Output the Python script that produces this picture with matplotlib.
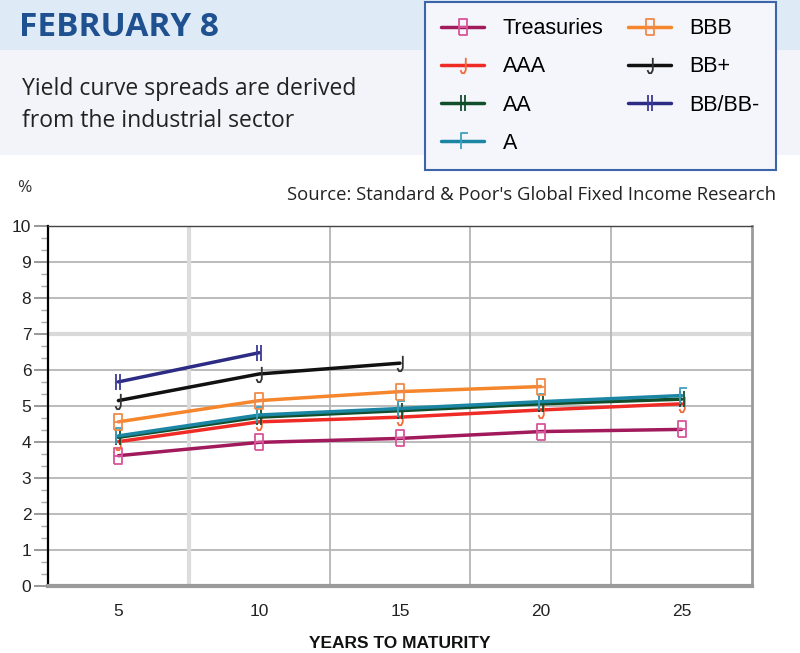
import matplotlib
matplotlib.use('Agg')
import matplotlib.pyplot as plt
from matplotlib.path import Path
from matplotlib.patches import Rectangle
from matplotlib.ticker import MultipleLocator, FixedLocator

# data
maturities = [5, 10, 15, 20, 25]
series_names = ['Treasuries', 'AAA', 'AA', 'A', 'BBB', 'BB+', 'BB/BB-']
treasuries = [3.62, 3.99, 4.10, 4.29, 4.35]
aaa = [4.01, 4.56, 4.69, 4.89, 5.06]
aa = [4.13, 4.69, 4.87, 5.06, 5.19]
a = [4.17, 4.75, 4.93, 5.12, 5.29]
bbb = [4.56, 5.15, 5.40, 5.54]
bb_plus = [5.15, 5.89, 6.19]
bb_minus = [5.67, 6.48]
series_values = [treasuries, aaa, aa, a, bbb, bb_plus, bb_minus]

M, L = Path.MOVETO, Path.LINETO
box_mark = Path([(-0.5, -1), (-0.5, 1), (0.5, 1), (0.5, -1), (-0.5, -1), (-0.5, 0), (0.5, 0)],
                [M, L, L, L, L, M, L])
hook_mark = Path([(0.3, 1), (0.3, -0.6), (0.1, -1), (-0.2, -1), (-0.4, -0.6)],
                 [M, L, L, L, L])
bars_mark = Path([(-0.3, -1), (-0.3, 1), (0.3, -1), (0.3, 1)], [M, L, M, L])
f_mark = Path([(-0.2, -1), (-0.2, 1), (0.6, 1)], [M, L, L])

line_colors = ['#a11a5c', '#ee2b24', '#114f2c', '#1b86a4', '#f5862c', '#111111', '#2d2c84']
mark_colors = ['#d8559a', '#f26a3a', '#114f2c', '#3fa0bd', '#f08a4a', '#333333', '#3a3a96']
markers = [box_mark, hook_mark, bars_mark, f_mark, box_mark, hook_mark, bars_mark]

fig = plt.figure(figsize=(8, 6.53), dpi=100)

# header bands
fig.patches.append(Rectangle((0, 1 - 50 / 653), 1, 50 / 653, transform=fig.transFigure,
                             facecolor='#deebf7', edgecolor='none', zorder=0))
fig.patches.append(Rectangle((0, 1 - 155 / 653), 1, 105 / 653, transform=fig.transFigure,
                             facecolor='#f3f4f9', edgecolor='none', zorder=0))
fig.text(19 / 800, 1 - 28 / 653, 'FEBRUARY 8', fontsize=24, fontweight='bold',
         family='Open Sans', color='#1f5190', va='center', ha='left')
fig.text(22 / 800, 1 - 105 / 653, 'Yield curve spreads are derived\nfrom the industrial sector',
         fontsize=16.5, family='Open Sans', color='#222222', va='center', ha='left',
         linespacing=1.4)

ax = fig.add_axes([48 / 800, 67 / 653, 704 / 800, 360 / 653])

lines = []
for name, vals, lc, mc, mk in zip(series_names, series_values, line_colors, mark_colors, markers):
    ln, = ax.plot(maturities[:len(vals)], vals, color=lc, lw=2.5, marker=mk, markersize=11,
                  markerfacecolor='none', markeredgecolor=mc, markeredgewidth=1.3,
                  label=name, zorder=3, solid_capstyle='round')
    lines.append(ln)

ax.set_xlim(2.5, 27.5)
ax.set_ylim(0, 10)
ax.xaxis.set_major_locator(FixedLocator(maturities))
ax.yaxis.set_major_locator(MultipleLocator(1))
ax.yaxis.set_minor_locator(MultipleLocator(1 / 3))

for y in range(1, 10):
    if y == 7:
        ax.axhline(y, color='#d9d9d9', lw=3, zorder=1)
    else:
        ax.axhline(y, color='#b5b5b5', lw=1.3, zorder=1)
for x in [7.5, 12.5, 17.5, 22.5]:
    if x == 7.5:
        ax.axvline(x, color='#dcdcdc', lw=3, zorder=1)
    else:
        ax.axvline(x, color='#b5b5b5', lw=1.3, zorder=1)

ax.spines['left'].set_color('black')
ax.spines['left'].set_linewidth(1.6)
ax.spines['bottom'].set_color('#9a9a9a')
ax.spines['bottom'].set_linewidth(3)
ax.spines['right'].set_color('#9a9a9a')
ax.spines['right'].set_linewidth(2)
ax.spines['top'].set_color('#444444')
ax.spines['top'].set_linewidth(1)

ax.tick_params(axis='x', which='both', length=0, pad=13, labelsize=12.5, labelcolor='#222222')
ax.tick_params(axis='y', which='major', length=10, width=1.2, color='#888888', pad=2,
               labelsize=12.5, labelcolor='#222222')
ax.tick_params(axis='y', which='minor', length=5, width=1, color='#aaaaaa')
for lab in ax.get_xticklabels() + ax.get_yticklabels():
    lab.set_family('Liberation Sans')

ax.set_xlabel('YEARS TO MATURITY', fontsize=12.5, fontweight='bold', family='Liberation Sans',
              color='#111111', labelpad=12)

fig.text(17 / 800, 1 - 188 / 653, '%', fontsize=12.5, family='Open Sans', color='#333333',
         va='center', ha='left')
fig.text(776 / 800, 1 - 195 / 653, "Source: Standard & Poor's Global Fixed Income Research",
         fontsize=13.3, family='Open Sans', color='#222222', va='center', ha='right')

leg = fig.legend(handles=lines, loc='upper left', bbox_to_anchor=(425 / 800, 1 - 2 / 653),
                 ncol=2, frameon=True, fancybox=False, prop={'family': 'Liberation Sans', 'size': 15.5},
                 handlelength=2.0, handletextpad=0.85, columnspacing=1.15, labelspacing=0.8,
                 borderpad=0.75, borderaxespad=0)
leg.get_frame().set_edgecolor('#3d63a8')
leg.get_frame().set_linewidth(1.5)
leg.get_frame().set_facecolor('#f4f6fb')
leg.get_frame().set_alpha(1)

fig.savefig('out.png', dpi=100)
